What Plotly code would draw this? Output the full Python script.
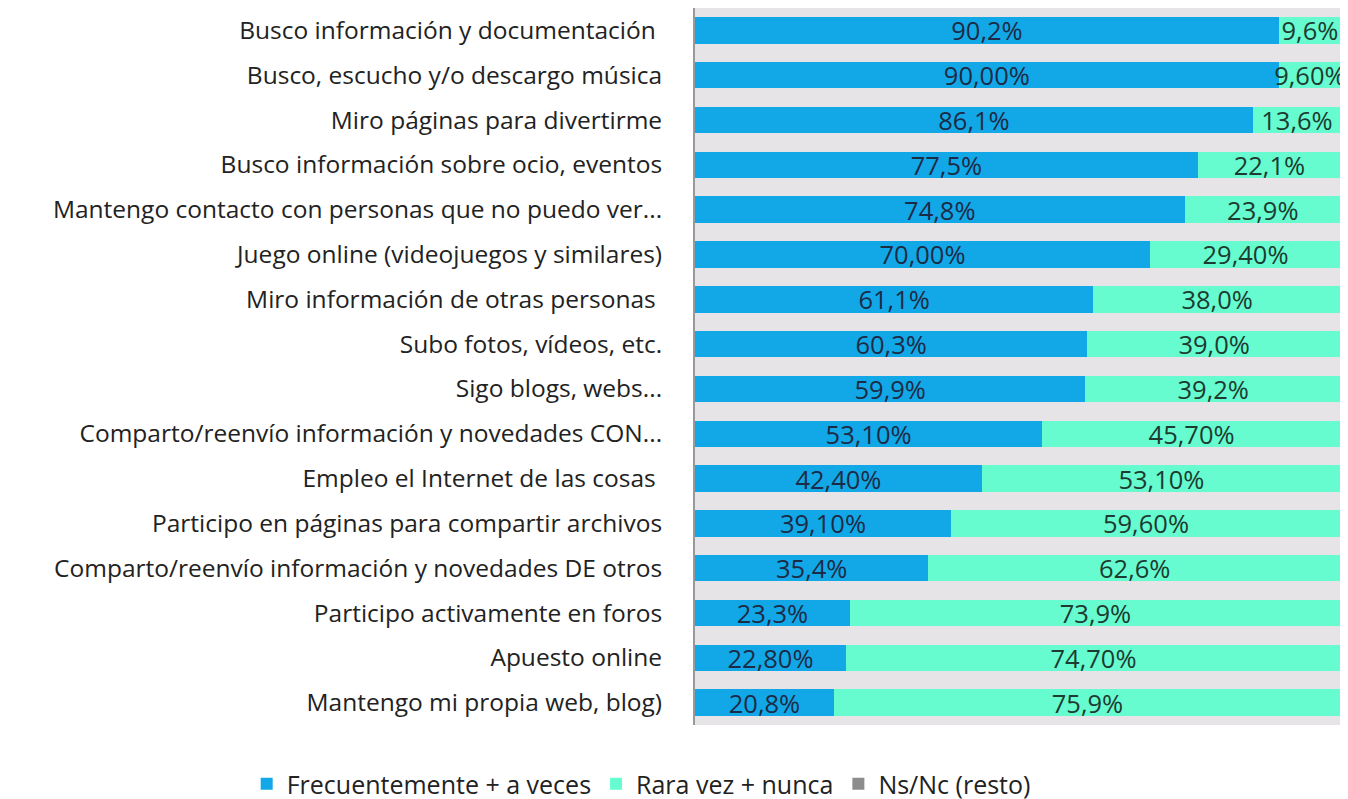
import plotly.graph_objects as go

categories = [
    "Busco información y documentación ",
    "Busco, escucho y/o descargo música",
    "Miro páginas para divertirme",
    "Busco información sobre ocio, eventos",
    "Mantengo contacto con personas que no puedo ver...",
    "Juego online (videojuegos y similares)",
    "Miro información de otras personas ",
    "Subo fotos, vídeos, etc.",
    "Sigo blogs, webs...",
    "Comparto/reenvío información y novedades CON...",
    "Empleo el Internet de las cosas ",
    "Participo en páginas para compartir archivos",
    "Comparto/reenvío información y novedades DE otros",
    "Participo activamente en foros",
    "Apuesto online",
    "Mantengo mi propia web, blog)",
]
frecuente = [90.2, 90.0, 86.1, 77.5, 74.8, 70.0, 61.1, 60.3, 59.9, 53.1, 42.4, 39.1, 35.4, 23.3, 22.8, 20.8]
frecuente_labels = ["90,2%", "90,00%", "86,1%", "77,5%", "74,8%", "70,00%", "61,1%", "60,3%",
                    "59,9%", "53,10%", "42,40%", "39,10%", "35,4%", "23,3%", "22,80%", "20,8%"]
rara = [9.6, 9.6, 13.6, 22.1, 23.9, 29.4, 38.0, 39.0, 39.2, 45.7, 53.1, 59.6, 62.6, 73.9, 74.7, 75.9]
rara_labels = ["9,6%", "9,60%", "13,6%", "22,1%", "23,9%", "29,40%", "38,0%", "39,0%",
               "39,2%", "45,70%", "53,10%", "59,60%", "62,6%", "73,9%", "74,70%", "75,9%"]
ns_nc = [0] * 16  # not visible in the chart

series_names = ["Frecuentemente + a veces", "Rara vez + nunca", "Ns/Nc (resto)"]
colors = ["#12a8e8", "#66fccf", "#8c8c8c"]

FONT = "Open Sans"
TICK_FS = 24.5
LABEL_FS = 25.5
LEGEND_FS = 25

fig = go.Figure()
fig.add_trace(go.Bar(
    y=categories, x=frecuente, orientation="h", name=series_names[0],
    marker=dict(color=colors[0], line=dict(width=0)),
    text=frecuente_labels, textposition="inside", insidetextanchor="middle",
    textangle=0, constraintext="none",
    textfont=dict(color="#1c2b45", size=LABEL_FS, family=FONT),
))
fig.add_trace(go.Bar(
    y=categories, x=rara, orientation="h", name=series_names[1],
    marker=dict(color=colors[1], line=dict(width=0)),
    text=rara_labels, textposition="inside", insidetextanchor="middle",
    textangle=0, constraintext="none",
    textfont=dict(color="#1d3b30", size=LABEL_FS, family=FONT),
))
fig.add_trace(go.Bar(
    y=categories, x=ns_nc, orientation="h", name=series_names[2],
    marker=dict(color=colors[2], line=dict(width=0)),
))

fig.update_layout(
    width=1340, height=799,
    barmode="stack", barnorm="percent", bargap=0.41,
    paper_bgcolor="white", plot_bgcolor="#e6e4e6",
    margin=dict(l=687, r=7, t=0, b=80),
    font=dict(family=FONT, size=TICK_FS, color="#222222"),
    showlegend=True,
    legend=dict(orientation="h", xref="paper", x=-0.694, xanchor="left",
                yref="paper", y=-0.083, yanchor="middle",
                font=dict(size=LEGEND_FS, color="#222222", family=FONT),
                itemwidth=30, traceorder="normal", tracegroupgap=0),
    xaxis=dict(range=[0, 100], showgrid=False, showticklabels=False, zeroline=False,
               showline=False, fixedrange=True),
    yaxis=dict(autorange="reversed", showgrid=False, showline=True, linecolor="#999999",
               linewidth=2, ticks="", ticklabelstandoff=26,
               tickfont=dict(size=TICK_FS, color="#222222", family=FONT)),
)

fig.write_html("out.html")
